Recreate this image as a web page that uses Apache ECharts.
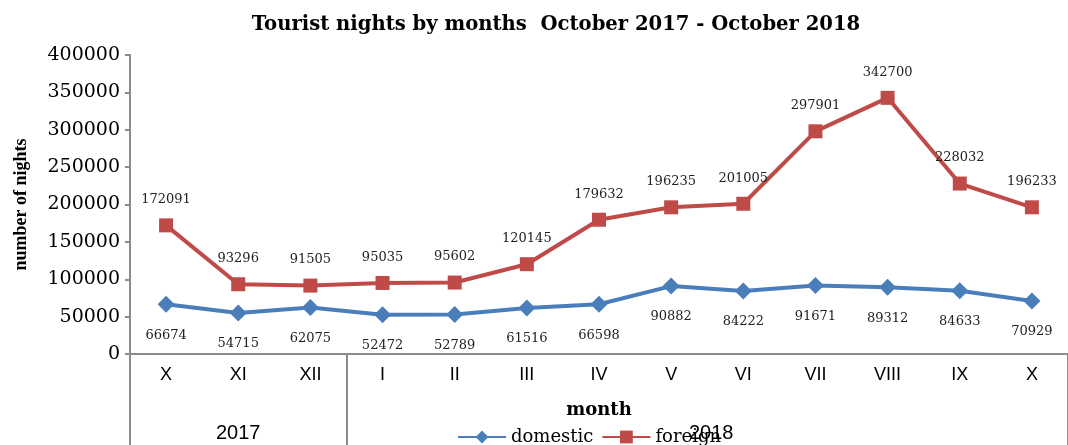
<!DOCTYPE html>
<html>
<head>
<meta charset="utf-8">
<script src="https://cdn.jsdelivr.net/npm/echarts@6/dist/echarts.min.js"></script>
<style>
  html, body { margin: 0; padding: 0; background: #fff; }
  #chart { width: 1068px; height: 445px; }
</style>
</head>
<body>
<div id="chart"></div>
<script>
const months = ["X", "XI", "XII", "I", "II", "III", "IV", "V", "VI", "VII", "VIII", "IX", "X"];
const years = ["", "2017", "", "", "", "", "", "2018", "", "", "", "", ""];
const domestic = [66674, 54715, 62075, 52472, 52789, 61516, 66598, 90882, 84222, 91671, 89312, 84633, 70929];
const foreign = [172091, 93296, 91505, 95035, 95602, 120145, 179632, 196235, 201005, 297901, 342700, 228032, 196233];

const serif = "DejaVu Serif";
const axisGray = "#8c8c8c";

const chart = echarts.init(document.getElementById("chart"));
chart.setOption({
  animation: false,
  title: {
    text: "Tourist nights by months  October 2017 - October 2018",
    left: 551,
    textAlign: "center",
    top: 10,
    textStyle: { fontFamily: serif, fontSize: 19.6, fontWeight: "bold", color: "#000" },
  },
  grid: { left: 130, top: 55, width: 945, height: 299 },
  legend: {
    top: 423,
    left: 452,
    itemWidth: 48,
    itemHeight: 16,
    itemGap: 8,
    textStyle: { fontFamily: serif, fontSize: 18, color: "#000" },
    data: ["domestic", "foreign"],
  },
  xAxis: [
    {
      type: "category",
      data: months,
      boundaryGap: true,
      name: "month",
      nameLocation: "middle",
      nameGap: 47,
      nameTextStyle: { fontFamily: serif, fontSize: 18, fontWeight: "bold", color: "#000" },
      axisLine: { lineStyle: { color: axisGray, width: 2 } },
      axisTick: { show: false },
      axisLabel: { fontFamily: "Liberation Sans", fontSize: 18, color: "#000", margin: 12, interval: 0 },
    },
    {
      type: "category",
      data: years,
      position: "bottom",
      boundaryGap: true,
      axisLine: { show: false },
      axisTick: {
        show: true,
        length: 92,
        interval: (i) => i === 0 || i === 3,
        lineStyle: { color: axisGray, width: 2 },
      },
      axisLabel: {
        interval: 0,
        margin: 69,
        fontFamily: "Liberation Sans",
        fontSize: 20,
        color: "#000",
        formatter: (v) => (v === "2018" ? "{b|" + v + "}" : v),
        rich: { b: { fontFamily: "Liberation Sans", fontSize: 20, color: "#000", padding: [0, 0, 0, 80] } },
      },
    },
  ],
  yAxis: {
    type: "value",
    min: 0,
    max: 400000,
    interval: 50000,
    name: "number of nights",
    nameLocation: "middle",
    nameGap: 100,
    nameTextStyle: { fontFamily: "Liberation Serif", fontSize: 18, fontWeight: "bold", color: "#000" },
    axisLine: { show: true, lineStyle: { color: axisGray, width: 2 } },
    axisTick: { show: true, length: 5, lineStyle: { color: axisGray, width: 2 } },
    splitLine: { show: false },
    axisLabel: {
      fontFamily: serif,
      fontSize: 19,
      color: "#000",
      margin: 10,
      formatter: (v) => String(v),
    },
  },
  series: [
    {
      name: "domestic",
      type: "line",
      data: domestic,
      symbol: "diamond",
      symbolSize: 17,
      color: "#4a7ebb",
      lineStyle: { width: 4 },
      label: {
        show: true,
        position: "bottom",
        distance: 16,
        fontFamily: serif,
        fontSize: 13,
        color: "#222",
      },
    },
    {
      name: "foreign",
      type: "line",
      data: foreign,
      symbol: "rect",
      symbolSize: 14,
      color: "#be4b48",
      lineStyle: { width: 4 },
      label: {
        show: true,
        position: "top",
        distance: 12,
        fontFamily: serif,
        fontSize: 13,
        color: "#222",
      },
    },
  ],
});
</script>
</body>
</html>
